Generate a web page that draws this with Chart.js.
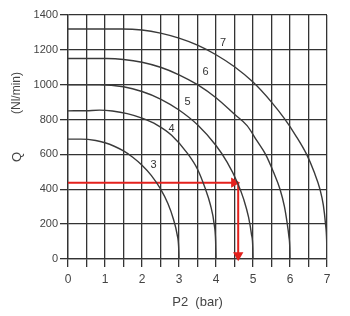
<!DOCTYPE html>
<html>
<head>
<meta charset="utf-8">
<script src="https://cdn.jsdelivr.net/npm/chart.js@4/dist/chart.umd.min.js"></script>
<style>
  html, body { margin: 0; padding: 0; background: #fff; }
  #wrap { width: 350px; height: 316px; position: relative; }
</style>
</head>
<body>
<div id="wrap"><canvas id="flowChart"></canvas></div>
<script>
// ─── DATA ───────────────────────────────────────────────────────────────────
const xTicks = [0, 1, 2, 3, 4, 5, 6, 7];
const yTicks = [0, 200, 400, 600, 800, 1000, 1200, 1400];

const curveNames = ['3', '4', '5', '6', '7'];

const p2Curve3 = [0, 0.35, 0.75, 1.0, 1.25, 1.5, 1.75, 2.0, 2.25, 2.5, 2.7, 2.85, 2.95, 2.99, 3];
const qCurve3  = [688, 688, 680, 667, 647, 620, 584, 538, 480, 402, 318, 228, 140, 70, 0];

const p2Curve4 = [0, 0.5, 0.85, 1.2, 1.6, 2.0, 2.4, 2.8, 3.25, 3.5, 3.7, 3.85, 3.95, 3.99, 4];
const qCurve4  = [850, 851, 854, 849, 834, 808, 770, 710, 600, 515, 410, 310, 200, 100, 0];

const p2Curve5 = [0, 0.85, 1.5, 2.0, 2.5, 3.0, 3.5, 4.0, 4.3, 4.58, 4.75, 4.88, 4.96, 4.995, 5];
const qCurve5  = [1000, 1000, 988, 961, 918, 855, 770, 651, 556, 438, 342, 240, 140, 60, 0];

const p2Curve6 = [0, 1.05, 1.5, 2.0, 2.5, 3.0, 3.5, 4.0, 4.5, 4.84, 5.1, 5.34, 5.55, 5.73, 5.85, 5.92, 5.97, 5.995, 6];
const qCurve6  = [1150, 1150, 1145, 1129, 1100, 1057, 1000, 925, 830, 765, 680, 600, 500, 400, 300, 210, 130, 60, 0];

const p2Curve7 = [0, 1.45, 2.0, 2.5, 3.0, 3.5, 4.0, 4.5, 5.0, 5.5, 5.85, 6.15, 6.45, 6.65, 6.81, 6.9, 6.96, 6.99, 7];
const qCurve7  = [1320, 1320, 1314, 1296, 1267, 1227, 1172, 1103, 1015, 900, 805, 710, 600, 500, 400, 310, 200, 110, 0];

// where the number of each curve is written
const labelP2 = [2.31, 2.8, 3.23, 3.72, 4.19];
const labelQ  = [540, 745, 903, 1075, 1240];

// red reading example: horizontal arrow at guideQ, vertical drop at guideP2
const guideQ      = 438;
const guideP2     = 4.6;
const guideArrowX = 4.49;   // centre of the right-pointing arrow head
const guideArrowY = 22;     // centre of the down-pointing arrow head

const INK  = '#333';
const RED  = '#e3211d';
const FONT = "'Liberation Sans', Arial, sans-serif";

function toPoints(xs, ys) {
  return xs.map((x, i) => ({ x, y: ys[i] }));
}

const curves = [
  toPoints(p2Curve3, qCurve3),
  toPoints(p2Curve4, qCurve4),
  toPoints(p2Curve5, qCurve5),
  toPoints(p2Curve6, qCurve6),
  toPoints(p2Curve7, qCurve7)
];

// ─── TEXT PLUGIN (curve numbers + y title) ─────────────────────────────────
const textPlugin = {
  id: 'chartText',
  afterDraw(chart) {
    const { ctx, scales: { x, y } } = chart;
    ctx.save();
    ctx.fillStyle = '#333';
    ctx.font = '11px ' + FONT;
    ctx.textAlign = 'center';
    ctx.textBaseline = 'middle';
    curveNames.forEach((name, i) => {
      ctx.fillText(name, x.getPixelForValue(labelP2[i]), y.getPixelForValue(labelQ[i]));
    });

    ctx.font = '12px ' + FONT;
    ctx.fillStyle = '#444';
    ctx.translate(17, 0);
    ctx.rotate(-Math.PI / 2);
    ctx.fillText('(Nl/min)', -93, 0);
    ctx.font = '13px ' + FONT;
    ctx.fillText('Q', -157, 0);
    ctx.restore();
  }
};

// ─── CHART ──────────────────────────────────────────────────────────────────
const ctx = document.getElementById('flowChart').getContext('2d');

new Chart(ctx, {
  type: 'line',
  data: {
    datasets: [
      ...curves.map((pts, i) => ({
        label: curveNames[i],
        data: pts,
        borderColor: '#3a3a3a',
        borderWidth: 1.4,
        pointRadius: 0,
        cubicInterpolationMode: 'monotone',
        fill: false
      })),
      {
        label: 'guide-h',
        data: [{ x: 0, y: guideQ }, { x: guideArrowX, y: guideQ }],
        borderColor: RED,
        backgroundColor: RED,
        borderWidth: 2,
        pointRadius: [0, 4],
        pointStyle: 'triangle',
        pointRotation: 90,
        clip: false
      },
      {
        label: 'guide-v',
        data: [{ x: guideP2, y: guideQ }, { x: guideP2, y: guideArrowY }],
        borderColor: RED,
        backgroundColor: RED,
        borderWidth: 2,
        pointRadius: [0, 4],
        pointStyle: 'triangle',
        pointRotation: 180,
        clip: false
      }
    ]
  },
  options: {
    responsive: true,
    maintainAspectRatio: false,
    animation: false,
    layout: { padding: { top: 15, right: 23, left: 0, bottom: 0 } },
    plugins: {
      legend: { display: false },
      tooltip: { enabled: false }
    },
    scales: {
      x: {
        type: 'linear',
        min: 0,
        max: 7,
        afterFit: s => { s.height = 57; },
        afterBuildTicks: s => {
          const t = [];
          for (let v = 0; v <= 14; v++) t.push({ value: v / 2 });
          s.ticks = t;
        },
        grid: { color: INK, lineWidth: 1.3, tickLength: 8 },
        border: { color: INK, width: 1.3 },
        ticks: {
          color: '#444',
          font: { family: FONT, size: 12 },
          padding: 5,
          maxRotation: 0,
          autoSkip: false,
          callback: v => xTicks.includes(v) ? String(v) : ''
        },
        title: {
          display: true,
          text: 'P2  (bar)',
          color: '#444',
          font: { family: FONT, size: 13 },
          padding: { top: 0, bottom: 6 }
        }
      },
      y: {
        type: 'linear',
        min: 0,
        max: 1400,
        afterFit: s => { s.width = 68; },
        afterBuildTicks: s => { s.ticks = yTicks.map(value => ({ value })); },
        grid: { color: INK, lineWidth: 1.3, tickLength: 8 },
        border: { color: INK, width: 1.3 },
        ticks: {
          color: '#444',
          font: { family: FONT, size: 11 },
          padding: 2,
          callback: v => String(v)
        }
      }
    }
  },
  plugins: [textPlugin]
});
</script>
</body>
</html>
